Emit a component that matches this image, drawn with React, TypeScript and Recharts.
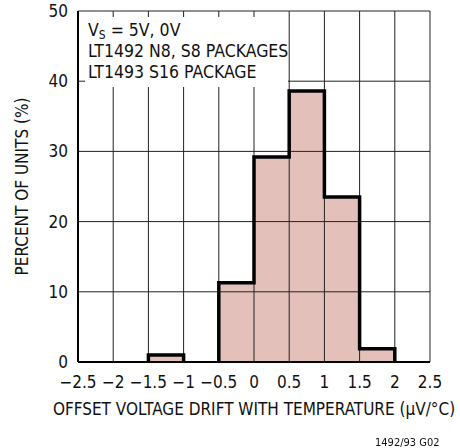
import React from 'react';
import { ComposedChart, Area, Line, XAxis, YAxis, CartesianGrid } from 'recharts';

// offset drift histogram, 0.5 uV/C bins
const binStarts = [-2.5, -2, -1.5, -1, -0.5, 0, 0.5, 1, 1.5, 2];
const binWidth = 0.5;
const percentUnits = [0, 0, 1, 0, 11.3, 29.2, 38.6, 23.5, 1.9, 0];
const xTicks = [-2.5, -2, -1.5, -1, -0.5, 0, 0.5, 1, 1.5, 2, 2.5];
const yTicks = [0, 10, 20, 30, 40, 50];
const noteLines = ['LT1492 N8, S8 PACKAGES', 'LT1493 S16 PACKAGE'];

const FONT = "'Liberation Sans Narrow', 'DejaVu Sans Condensed', 'Liberation Sans', sans-serif";

const fillRows = binStarts
  .map((x, i) => ({ x, pct: percentUnits[i] }))
  .concat({ x: binStarts[binStarts.length - 1] + binWidth, pct: 0 });

// outline only around non-empty runs of bins
const outlineRows: { x: number; pct: number | null }[] = [];
let i = 0;
while (i < binStarts.length) {
  if (percentUnits[i] === 0) {
    i++;
    continue;
  }
  const start = i;
  while (i < binStarts.length && percentUnits[i] > 0) i++;
  if (outlineRows.length) outlineRows.push({ x: binStarts[start], pct: null });
  outlineRows.push({ x: binStarts[start], pct: 0 });
  for (let k = start; k < i; k++) outlineRows.push({ x: binStarts[k], pct: percentUnits[k] });
  outlineRows.push({ x: binStarts[i - 1] + binWidth, pct: 0 });
}

const fmt = (v: number) => (v < 0 ? '\u2212' + Math.abs(v) : String(v));

export default function App() {
  return (
    <div style={{ position: 'fixed', left: 0, top: 0, width: 460, height: 448, background: '#fff', fontFamily: FONT }}>
      <ComposedChart
        width={460}
        height={448}
        margin={{ top: 11, right: 30, bottom: 0, left: 0 }}
        style={{ fontFamily: FONT }}
      >
        <XAxis
          dataKey="x"
          type="number"
          domain={[-2.5, 2.5]}
          ticks={xTicks}
          tickFormatter={fmt}
          allowDuplicatedCategory={false}
          height={86}
          tickLine={false}
          tickSize={0}
          tickMargin={14}
          axisLine={{ stroke: '#000', strokeWidth: 2 }}
          tick={{ fill: '#111', fontSize: 17 }}
          label={{
            value: 'OFFSET VOLTAGE DRIFT WITH TEMPERATURE (\u03bcV/\u00b0C)',
            position: 'insideBottom',
            offset: 33,
            fill: '#111',
            fontSize: 17,
          }}
        />
        <YAxis
          type="number"
          domain={[0, 50]}
          ticks={yTicks}
          width={78}
          tickLine={false}
          tickSize={0}
          tickMargin={10}
          axisLine={{ stroke: '#000', strokeWidth: 2 }}
          tick={{ fill: '#111', fontSize: 17 }}
          label={{
            value: 'PERCENT OF UNITS (%)',
            angle: -90,
            position: 'insideLeft',
            offset: 22,
            fill: '#111',
            fontSize: 17,
            style: { textAnchor: 'middle' },
          }}
        />
        <Area
          data={fillRows}
          dataKey="pct"
          type="stepAfter"
          fill="#e3c1ba"
          fillOpacity={1}
          stroke="none"
          isAnimationActive={false}
        />
        <CartesianGrid stroke="#222" strokeWidth={1} fill="none" zIndex={150} />
        <Line
          data={outlineRows}
          dataKey="pct"
          type="stepAfter"
          stroke="#000"
          strokeWidth={3.5}
          strokeLinejoin="miter"
          dot={false}
          activeDot={false}
          connectNulls={false}
          isAnimationActive={false}
        />
      </ComposedChart>
      <div
        style={{
          position: 'absolute',
          left: 85,
          top: 17,
          width: 203,
          height: 70,
          boxSizing: 'border-box',
          padding: '3px 0 0 3px',
          background: '#fff',
          color: '#111',
          fontSize: 17.5,
          lineHeight: '21px',
          whiteSpace: 'nowrap',
        }}
      >
        <div>
          V<sub style={{ fontSize: 12, verticalAlign: -3, lineHeight: 0 }}>S</sub> = 5V, 0V
        </div>
        {noteLines.map((t) => (
          <div key={t}>{t}</div>
        ))}
      </div>
      <div style={{ position: 'absolute', left: 375, top: 436, fontSize: 11, color: '#111' }}>1492/93 G02</div>
    </div>
  );
}
